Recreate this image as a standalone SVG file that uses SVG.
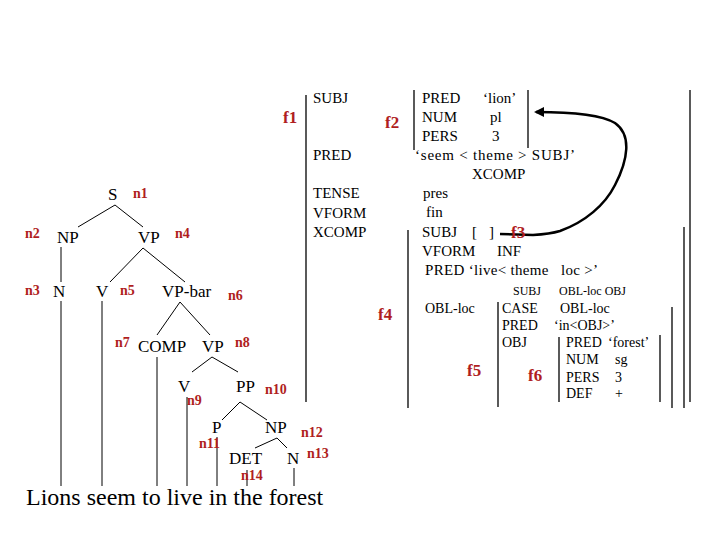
<svg xmlns="http://www.w3.org/2000/svg" width="720" height="540" viewBox="0 0 720 540">
<defs>
<style>
.t{font-family:"Liberation Serif","Times New Roman",serif;font-size:17px;fill:#000}
.a{font-family:"Liberation Serif","Times New Roman",serif;font-size:15px;fill:#000}
.s{font-family:"Liberation Serif","Times New Roman",serif;font-size:14px;fill:#000}
.xs{font-family:"Liberation Serif","Times New Roman",serif;font-size:12px;fill:#000}
.big{font-family:"Liberation Serif","Times New Roman",serif;font-size:24px;fill:#000}
.n{font-family:"Liberation Serif","Times New Roman",serif;font-size:14px;font-weight:bold;fill:#b01e1e}
.f{font-family:"Liberation Serif","Times New Roman",serif;font-size:17px;font-weight:bold;fill:#b01e1e}
.l{stroke:#000;stroke-width:1;fill:none}
.b{stroke:#000;stroke-width:1.3;fill:none}
</style>
<marker id="ah" viewBox="0 0 10 10" refX="8" refY="5" markerWidth="4" markerHeight="4" orient="auto">
<path d="M0,0 L10,5 L0,10 z" fill="#000"/>
</marker>
</defs>
<rect width="720" height="540" fill="#fff"/>

<g id="connectors">
<line class="l" x1="115" y1="205" x2="78" y2="227"/>
<line class="l" x1="115" y1="205" x2="143" y2="227"/>
<line class="l" x1="61" y1="247" x2="61" y2="282"/>
<line class="l" x1="143" y1="248" x2="110" y2="282"/>
<line class="l" x1="143" y1="248" x2="185" y2="282"/>
<line class="l" x1="61" y1="301" x2="61" y2="486"/>
<line class="l" x1="102" y1="301" x2="102" y2="486"/>
<line class="l" x1="180" y1="302" x2="157" y2="335"/>
<line class="l" x1="180" y1="302" x2="210" y2="335"/>
<line class="l" x1="157" y1="357" x2="157" y2="486"/>
<line class="l" x1="212" y1="357" x2="192" y2="372"/>
<line class="l" x1="212" y1="357" x2="238" y2="372"/>
<line class="l" x1="187" y1="397" x2="187" y2="486"/>
<line class="l" x1="240" y1="402" x2="222" y2="420"/>
<line class="l" x1="240" y1="402" x2="267" y2="420"/>
<line class="l" x1="217" y1="437" x2="217" y2="486"/>
<line class="l" x1="277" y1="438" x2="255" y2="448"/>
<line class="l" x1="277" y1="438" x2="287" y2="448"/>
<line class="l" x1="247" y1="470" x2="247" y2="486"/>
<line class="l" x1="294" y1="468" x2="294" y2="486"/>
<path d="M500,234 L533,235 Q550,234 560,231 C585,222 605,205 615,185 C628,160 632,135 615,123 C600,114 570,112 536,112" stroke="#000" stroke-width="2.5" fill="none" marker-end="url(#ah)"/>
</g>

<g id="brackets">
<line class="b" x1="306" y1="95" x2="306" y2="402"/>
<line class="b" x1="690" y1="90" x2="690" y2="402"/>
<line class="b" x1="414" y1="90" x2="414" y2="150"/>
<line class="b" x1="528" y1="90" x2="528" y2="148"/>
<line class="b" x1="408" y1="230" x2="408" y2="408"/>
<line class="b" x1="684" y1="227" x2="684" y2="408"/>
<line class="b" x1="498" y1="302" x2="498" y2="407"/>
<line class="b" x1="672" y1="307" x2="672" y2="408"/>
<line class="b" x1="559" y1="337" x2="559" y2="402"/>
<line class="b" x1="660" y1="335" x2="660" y2="402"/>
</g>

<g id="n1"><text class="t" x="108" y="200">S</text><text class="n" x="133" y="198">n1</text></g>
<g id="n2"><text class="t" x="57" y="243">NP</text><text class="n" x="25" y="238">n2</text></g>
<g id="n4"><text class="t" x="138" y="243">VP</text><text class="n" x="175" y="238">n4</text></g>
<g id="n3"><text class="t" x="53" y="297">N</text><text class="n" x="25" y="295">n3</text></g>
<g id="n5"><text class="t" x="96" y="297">V</text><text class="n" x="120" y="295">n5</text></g>
<g id="n6"><text class="t" x="162" y="297">VP-bar</text><text class="n" x="228" y="300">n6</text></g>
<g id="n7"><text class="t" x="138" y="352">COMP</text><text class="n" x="115" y="347">n7</text></g>
<g id="n8"><text class="t" x="202" y="352">VP</text><text class="n" x="235" y="347">n8</text></g>
<g id="n9"><text class="t" x="178" y="392">V</text><text class="n" x="187" y="405">n9</text></g>
<g id="n10"><text class="t" x="236" y="392">PP</text><text class="n" x="265" y="394">n10</text></g>
<g id="n11"><text class="t" x="212" y="433">P</text><text class="n" x="199" y="448">n11</text></g>
<g id="n12"><text class="t" x="265" y="433">NP</text><text class="n" x="301" y="437">n12</text></g>
<g id="n14"><text class="t" x="229" y="464">DET</text><text class="n" x="241" y="480">n14</text></g>
<g id="n13"><text class="t" x="287" y="464">N</text><text class="n" x="307" y="458">n13</text></g>
<g id="sentence"><text class="big" x="26" y="505">Lions seem to live in the forest</text></g>

<g id="f1">
<text class="f" x="283" y="123">f1</text>
<text class="a" x="313" y="103">SUBJ</text>
<text class="a" x="313" y="160">PRED</text>
<text class="a" x="313" y="198">TENSE</text>
<text class="a" x="313" y="218">VFORM</text>
<text class="a" x="313" y="237">XCOMP</text>
</g>
<g id="f2">
<text class="f" x="385" y="128">f2</text>
<text class="a" x="422" y="103">PRED</text><text class="a" x="483" y="103">‘lion’</text>
<text class="a" x="422" y="122">NUM</text><text class="a" x="490" y="122">pl</text>
<text class="a" x="422" y="141">PERS</text><text class="a" x="492" y="141">3</text>
</g>
<g id="f1-values">
<text class="a" x="415" y="160" textLength="160" lengthAdjust="spacing">‘seem &lt; theme &gt; SUBJ’</text>
<text class="a" x="472" y="179">XCOMP</text>
<text class="a" x="423" y="198">pres</text>
<text class="a" x="426" y="217">fin</text>
</g>
<g id="f4">
<text class="f" x="378" y="320">f4</text>
<text class="a" x="422" y="237">SUBJ</text><text class="a" x="472" y="237">[</text><text class="a" x="489" y="237">]</text>
<text class="a" x="422" y="256">VFORM</text><text class="a" x="497" y="256">INF</text>
<text class="a" x="425" y="275" xml:space="preserve" textLength="173" lengthAdjust="spacing">PRED ‘live&lt; theme   loc &gt;’</text>
<text class="xs" x="513" y="295">SUBJ</text><text class="xs" x="559" y="295">OBL-loc OBJ</text>
<text class="s" x="425" y="313">OBL-loc</text>
</g>
<g id="f3"><text class="f" x="511" y="238">f3</text></g>
<g id="f5">
<text class="f" x="467" y="376">f5</text>
<text class="s" x="502" y="313">CASE</text><text class="s" x="560" y="313">OBL-loc</text>
<text class="s" x="502" y="330">PRED</text><text class="s" x="554" y="330">‘in&lt;OBJ&gt;’</text>
<text class="s" x="502" y="347">OBJ</text>
</g>
<g id="f6">
<text class="f" x="528" y="381">f6</text>
<text class="s" x="566" y="347">PRED</text><text class="s" x="608" y="347">‘forest’</text>
<text class="s" x="566" y="364">NUM</text><text class="s" x="615" y="364">sg</text>
<text class="s" x="566" y="382">PERS</text><text class="s" x="615" y="382">3</text>
<text class="s" x="566" y="398">DEF</text><text class="s" x="615" y="398">+</text>
</g>
</svg>
